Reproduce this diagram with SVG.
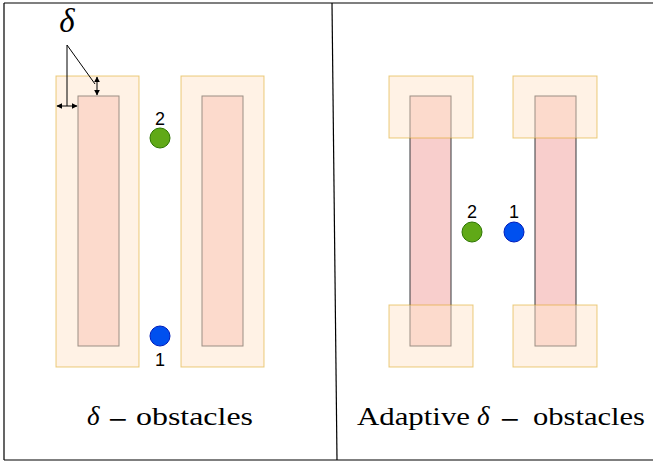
<svg xmlns="http://www.w3.org/2000/svg" width="653" height="462" viewBox="0 0 653 462">
<style>
.frame{stroke:#000;stroke-width:1.2;fill:none}
.core{fill:#f8cecc;stroke:#36393d;stroke-width:1}
.pad{fill:#ffe6cc;fill-opacity:0.5;stroke:#d79b00;stroke-opacity:0.5;stroke-width:1}
.g{fill:#60a917;stroke:#2d7600;stroke-width:1}
.b{fill:#0050ef;stroke:#001dbc;stroke-width:1}
.num{font-family:"Liberation Sans",Arial,sans-serif;font-size:18px;fill:#000;text-anchor:middle}
.cap{font-family:"Liberation Serif","Times New Roman",serif;font-size:25px;fill:#000}
.it{font-style:italic}
.big{font-size:33px}
.minus{font-size:34px}
.ln{stroke:#000;stroke-width:1;fill:none}
</style>
<defs>
<marker id="ah" viewBox="0 0 10 10" refX="9" refY="5" markerWidth="6" markerHeight="7" orient="auto-start-reverse" markerUnits="userSpaceOnUse">
<path d="M0,0 L10,5 L0,10 Z" fill="#000"/>
</marker>
</defs>
<g id="frame">
<path class="frame" d="M4,3 L653,3 M4,3 L4,460 M4,460 L653,460"/>
<line class="frame" x1="332" y1="3" x2="337" y2="460"/>
</g>
<g id="left-obstacle-1">
<rect class="core" x="78" y="96" width="41" height="250"/>
<rect class="pad" x="56" y="76" width="83" height="291"/>
</g>
<g id="left-obstacle-2">
<rect class="core" x="202" y="96" width="41" height="250"/>
<rect class="pad" x="181" y="76" width="83" height="291"/>
</g>
<g id="right-obstacle-1">
<rect class="core" x="410" y="96" width="41" height="250"/>
<rect class="pad" x="389" y="76" width="84" height="62"/>
<rect class="pad" x="389" y="305" width="84" height="62"/>
</g>
<g id="right-obstacle-2">
<rect class="core" x="535" y="96" width="41" height="250"/>
<rect class="pad" x="513" y="76" width="84" height="62"/>
<rect class="pad" x="513" y="305" width="84" height="62"/>
</g>
<g id="left-agent-2">
<circle class="g" cx="160" cy="138" r="10"/>
<text class="num" x="160" y="125">2</text>
</g>
<g id="left-agent-1">
<circle class="b" cx="160" cy="336" r="10"/>
<text class="num" x="160" y="366">1</text>
</g>
<g id="right-agent-2">
<circle class="g" cx="472" cy="232" r="10"/>
<text class="num" x="472" y="218">2</text>
</g>
<g id="right-agent-1">
<circle class="b" cx="514" cy="232" r="10"/>
<text class="num" x="514" y="218">1</text>
</g>
<g id="delta-label">
<text class="cap it big" x="67" y="32" text-anchor="middle">δ</text>
</g>
<g id="connectors">
<line class="ln" x1="67" y1="45" x2="67" y2="106"/>
<line class="ln" x1="67" y1="45" x2="95" y2="84"/>
<line class="ln" x1="57" y1="106" x2="77" y2="106" marker-start="url(#ah)" marker-end="url(#ah)"/>
<line class="ln" x1="97" y1="77" x2="97" y2="95" marker-start="url(#ah)" marker-end="url(#ah)"/>
</g>
<g id="captions">
<text class="cap it" x="87" y="425" style="font-size:27px">δ</text>
<text class="cap minus" x="108" y="431">−</text>
<text class="cap" x="136" y="425" textLength="117" lengthAdjust="spacingAndGlyphs">obstacles</text>
<text class="cap" x="357" y="425" textLength="113" lengthAdjust="spacingAndGlyphs">Adaptive</text>
<text class="cap it" x="477" y="425" style="font-size:27px">δ</text>
<text class="cap minus" x="500" y="431">−</text>
<text class="cap" x="533" y="425" textLength="112" lengthAdjust="spacingAndGlyphs">obstacles</text>
</g>
</svg>
